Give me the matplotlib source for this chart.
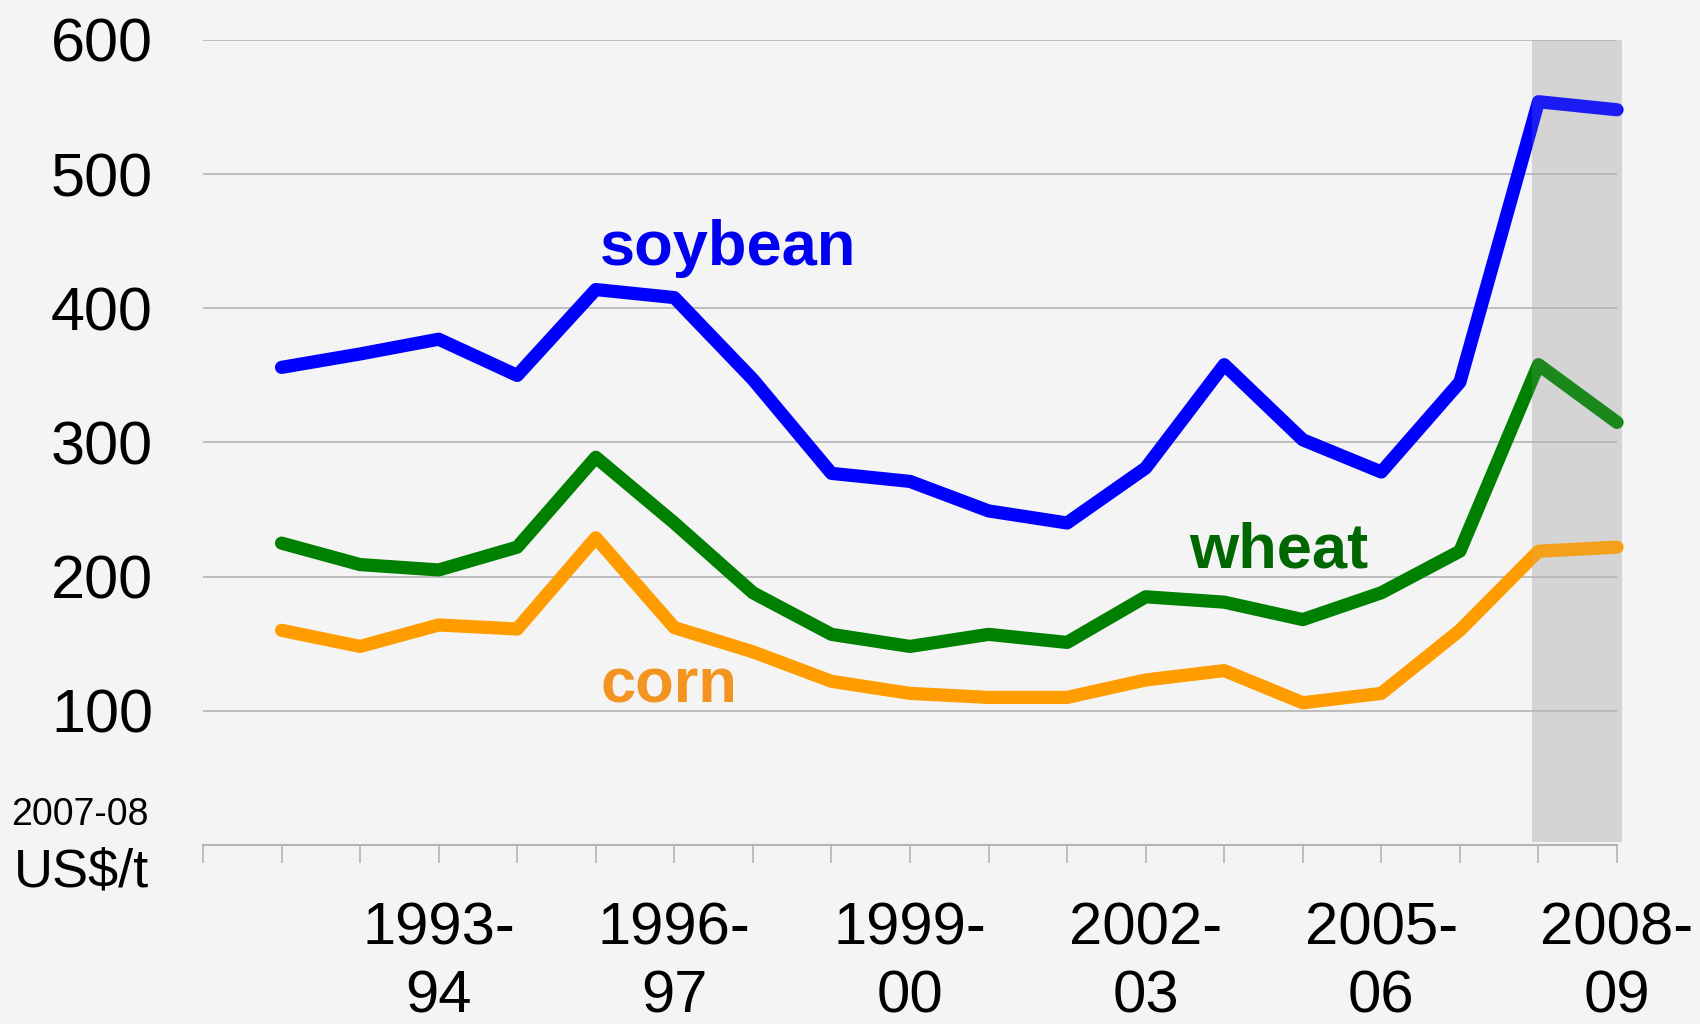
import matplotlib
matplotlib.use("Agg")
import matplotlib.pyplot as plt
import numpy as np

plt.rcParams['font.family'] = ['Liberation Sans', 'DejaVu Sans']

seasons = ['1991-92', '1992-93', '1993-94', '1994-95', '1995-96', '1996-97',
           '1997-98', '1998-99', '1999-00', '2000-01', '2001-02', '2002-03',
           '2003-04', '2004-05', '2005-06', '2006-07', '2007-08', '2008-09']
soybean = [356, 366, 377, 350, 414, 408, 347, 277, 271, 249, 240, 281,
           358, 302, 278, 345, 554, 548]
wheat = [225, 209, 205, 222, 289, 240, 188, 157, 148, 157, 151, 185,
         181, 168, 188, 219, 358, 315]
corn = [160, 148, 164, 161, 229, 162, 144, 122, 113, 110, 110, 123,
        130, 106, 113, 160, 219, 222]
labeled_seasons = ['1993-94', '1996-97', '1999-00', '2002-03', '2005-06', '2008-09']
highlight = ['2007-08', '2008-09']
yticks = [100, 200, 300, 400, 500, 600]

BG = '#f4f4f4'
W, H = 1700, 1024
fig = plt.figure(figsize=(17, 10.24), dpi=100, facecolor=BG)
ax = fig.add_axes([203 / W, 1 - 845 / H, (1617 - 203) / W, (845 - 40) / H])
ax.set_facecolor(BG)

x = np.arange(len(seasons))
ax.set_xlim(-1, len(seasons) - 1)
ax.set_ylim(0, 600)

# highlight band
h0 = seasons.index(highlight[0])
h1 = seasons.index(highlight[-1])
ax.axvspan(h0 - 0.08, h1 + 0.06, ymin=0.004, ymax=1.0, color='#d9d9d9', zorder=0.5,
           lw=0, clip_on=False)

for yv in yticks:
    ax.axhline(yv, color='#b4b4b4', lw=1.2, zorder=1)

lw = 9.5
for vals, col in [(soybean, '#0000ff'), (wheat, '#008000'), (corn, '#ff9c00')]:
    ax.plot(x, vals, color=col, lw=lw, solid_capstyle='round',
            solid_joinstyle='round', zorder=3, clip_on=False)

# translucent overlay of highlight band on top of lines
ax.axvspan(h0 - 0.08, h1 + 0.06, ymin=0.004, ymax=1.0, color='#b8b8b8', alpha=0.15,
           zorder=4, lw=0, clip_on=False)

# series labels
ax.text(5.05 - 1, 432, 'soybean', color='#0000f0', fontsize=45.5, fontweight='bold',
        ha='left', va='baseline')
ax.text(12.55 - 1, 207, 'wheat', color='#006600', fontsize=45.5, fontweight='bold',
        ha='left', va='baseline')
ax.text(5.06 - 1, 106.5, 'corn', color='#f39320', fontsize=45.5, fontweight='bold',
        ha='left', va='baseline')

# axes styling
for s in ['top', 'right', 'left']:
    ax.spines[s].set_visible(False)
ax.spines['bottom'].set_color('#b4b4b4')
ax.spines['bottom'].set_linewidth(1.5)

ax.set_yticks(yticks)
ax.set_yticklabels([str(v) for v in yticks], fontsize=44)
ax.tick_params(axis='y', length=0, pad=36)

ticks = list(range(-1, len(seasons)))
labels = []
for t in ticks:
    if t >= 0 and seasons[t] in labeled_seasons:
        a, b = seasons[t].split('-')
        labels.append(a + '-\n' + b)
    else:
        labels.append('')
ax.set_xticks(ticks)
ax.set_xticklabels(labels, fontsize=43)
ax.tick_params(axis='x', length=13, width=1.2, color='#b4b4b4', pad=28, direction='out')
for lab in ax.get_xticklabels():
    lab.set_linespacing(1.3)

fig.text(149 / W, 1 - 825 / H, '2007-08', fontsize=27, ha='right', va='baseline')
fig.text(149 / W, 1 - 887 / H, 'US$/t', fontsize=39, ha='right', va='baseline')

fig.savefig('out.png', dpi=100, facecolor=BG)
